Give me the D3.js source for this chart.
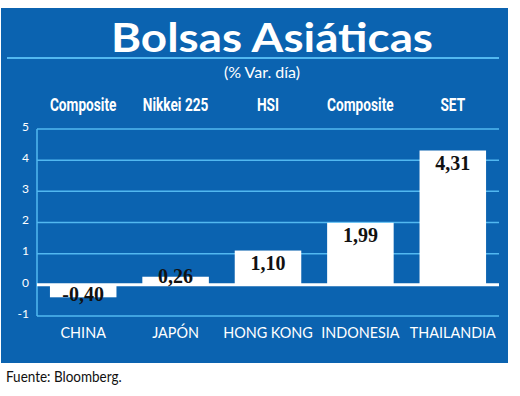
<!DOCTYPE html>
<html>
<head>
<meta charset="utf-8">
<script src="https://cdn.jsdelivr.net/npm/d3@7"></script>
<style>
  body { margin: 0; background: #fff; }
  svg { display: block; }
</style>
</head>
<body>
<div id="chart"></div>
<script>
// Data
let countries = ["CHINA", "JAPÓN", "HONG KONG", "INDONESIA", "THAILANDIA"];
let indices = ["Composite", "Nikkei 225", "HSI", "Composite", "SET"];
let values = [-0.40, 0.26, 1.10, 1.99, 4.31];
let ticks = [-1, 0, 1, 2, 3, 4, 5];

let width = 520,
    height = 396;

let blue = "#0b63b0",
    grid = "#52b8f0";

let svg = d3.select("#chart")
    .append("svg")
        .attr("width", width)
        .attr("height", height);

// Panel
svg.append("rect")
    .attr("x", 1).attr("y", 8)
    .attr("width", 507).attr("height", 355)
    .attr("fill", blue);

// Title
svg.append("text")
    .attr("x", 272).attr("y", 52)
    .attr("text-anchor", "middle")
    .attr("font-family", "Lato")
    .attr("font-weight", 700)
    .attr("font-size", 40)
    .attr("fill", "#fff")
    .attr("textLength", 322)
    .attr("lengthAdjust", "spacingAndGlyphs")
    .text("Bolsas Asiáticas");

svg.append("line")
    .attr("x1", 7).attr("x2", 499)
    .attr("y1", 58).attr("y2", 58)
    .attr("stroke", grid).attr("stroke-width", 2);

svg.append("text")
    .attr("x", 262).attr("y", 78)
    .attr("text-anchor", "middle")
    .attr("font-family", "Lato")
    .attr("font-size", 16)
    .attr("fill", "#fff")
    .text("(% Var. día)");

// Scales
let x = d3.scaleBand()
    .domain(d3.range(countries.length))
    .range([37, 499])
    .paddingInner(0.28)
    .paddingOuter(0.14);

let y = d3.scaleLinear()
    .domain([-1, 5])
    .range([316, 129]);

let cx = i => x(i) + x.bandwidth() / 2;

// Gridlines
svg.append("g")
    .selectAll("line")
    .data(ticks.filter(d => d !== 0))
    .join("line")
        .attr("x1", 37).attr("x2", 499)
        .attr("y1", d => y(d)).attr("y2", d => y(d))
        .attr("stroke", grid)
        .attr("stroke-width", 1.5);

svg.append("line")
    .attr("x1", 37).attr("x2", 37)
    .attr("y1", y(5)).attr("y2", y(-1))
    .attr("stroke", grid).attr("stroke-width", 1.5);

// Y axis labels
let yAxis = svg.append("g")
    .attr("transform", "translate(29,0)")
    .call(d3.axisLeft(y).tickValues(ticks).tickFormat(d => String(d)).tickSize(0).tickPadding(0));
yAxis.select(".domain").remove();
yAxis.selectAll("text")
    .attr("font-family", "Lato")
    .attr("font-size", 12)
    .attr("fill", "#fff")
    .attr("dy", "0.1em");

// Bars
svg.append("g")
    .selectAll("rect")
    .data(values)
    .join("rect")
        .attr("x", (d, i) => x(i))
        .attr("width", x.bandwidth())
        .attr("y", d => y(Math.max(0, d)))
        .attr("height", d => Math.abs(y(d) - y(0)))
        .attr("fill", "#fff");

// Zero line
svg.append("line")
    .attr("x1", 37).attr("x2", 499)
    .attr("y1", y(0)).attr("y2", y(0))
    .attr("stroke", "#fff").attr("stroke-width", 3);

// Value labels
svg.append("g")
    .selectAll("text")
    .data(values)
    .join("text")
        .attr("x", (d, i) => cx(i))
        .attr("y", d => d < 0 ? y(0) + 16 : Math.min(y(d) + 19, y(0) - 2))
        .attr("text-anchor", "middle")
        .attr("font-family", "Liberation Serif")
        .attr("font-weight", 700)
        .attr("font-size", 20)
        .attr("fill", "#111")
        .text(d => d3.format(".2f")(d).replace(".", ",").replace("−", "-"));

// Index names
svg.append("g")
    .selectAll("text")
    .data(indices)
    .join("text")
        .attr("x", (d, i) => cx(i))
        .attr("y", 111)
        .attr("text-anchor", "middle")
        .attr("font-family", "Roboto")
        .attr("font-weight", 700)
        .attr("font-size", 19)
        .attr("fill", "#fff")
        .attr("transform-origin", (d, i) => `${cx(i)}px 111px`)
        .attr("transform", "scale(0.72,1)")
        .text(d => d);

// Country names
svg.append("g")
    .selectAll("text")
    .data(countries)
    .join("text")
        .attr("x", (d, i) => cx(i))
        .attr("y", 338)
        .attr("text-anchor", "middle")
        .attr("font-family", "Lato")
        .attr("font-size", 16)
        .attr("fill", "#fff")
        .attr("transform-origin", (d, i) => `${cx(i)}px 338px`)
        .attr("transform", "scale(0.9,1)")
        .text(d => d);

// Source
svg.append("text")
    .attr("x", 6).attr("y", 382)
    .attr("font-family", "Lato")
    .attr("font-size", 15)
    .attr("fill", "#111")
    .attr("transform-origin", "6px 382px")
    .attr("transform", "scale(0.9,1)")
    .text("Fuente: Bloomberg.");
</script>
</body>
</html>
